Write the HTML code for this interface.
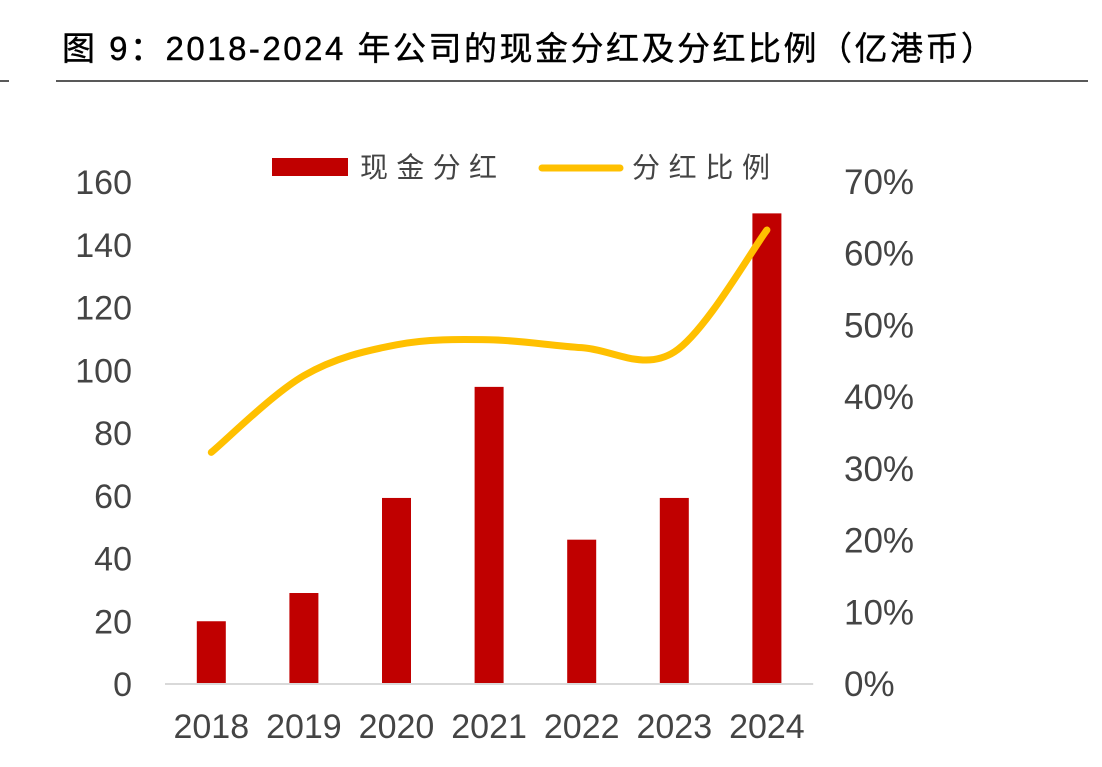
<!DOCTYPE html>
<html><head><meta charset="utf-8"><style>
body{margin:0;background:#fff;width:1102px;height:762px;overflow:hidden;font-family:"Liberation Sans","Noto Sans CJK SC",sans-serif}
svg text{font-family:"Liberation Sans","Noto Sans CJK SC",sans-serif}
</style></head><body>
<svg width="1102" height="762">
<text x="62" y="60" font-size="33" fill="#000" letter-spacing="2.5" stroke="#000" stroke-width="0.4">图 9：2018-2024 年公司的现金分红及分红比例（亿港币）</text>
<line x1="56" y1="81" x2="1088" y2="81" stroke="#222" stroke-width="1.5"/>
<line x1="0" y1="81" x2="9" y2="81" stroke="#222" stroke-width="1.5"/>
<rect x="272" y="158" width="76" height="18" fill="#c00000"/>
<text x="360" y="177" font-size="28" fill="#444" textLength="137" lengthAdjust="spacing">现金分红</text>
<line x1="542" y1="168" x2="620" y2="168" stroke="#ffc000" stroke-width="7" stroke-linecap="round"/>
<text x="632" y="177" font-size="28" fill="#444" textLength="138" lengthAdjust="spacing">分红比例</text>
<g id="g"></g>
</svg>
<script>
const categories=["2018","2019","2020","2021","2022","2023","2024"];
const dividends=[20,29,59.3,94.7,46,59.3,150];
const ratios=[32.3,43,47.3,48,46.9,46.3,63.3];
const leftTicks=[0,20,40,60,80,100,120,140,160];
const rightTicks=[0,10,20,30,40,50,60,70];
const NS="http://www.w3.org/2000/svg",g=document.getElementById('g');
const x0=165,step=92.6,yB=684,yT=182;
const xc=i=>x0+step*(i+0.5);
const yL=v=>yB-(v/160)*(yB-yT);
const yR=v=>yB-(v/70)*(yB-yT);
function mk(t,a){const e=document.createElementNS(NS,t);for(const k in a)e.setAttribute(k,a[k]);g.appendChild(e);return e;}
leftTicks.forEach(v=>{const e=mk('text',{x:132,y:yL(v)+12,'font-size':34,fill:'#444','text-anchor':'end'});e.textContent=v;

});
rightTicks.forEach(v=>{const e=mk('text',{x:844,y:yR(v)+12,'font-size':35,fill:'#444'});e.textContent=v+'%';

});
dividends.forEach((v,i)=>{const e=mk('rect',{x:xc(i)-14.5,y:yL(v),width:29,height:yB-yL(v),fill:'#c00000'});

});
const ax=mk('line',{x1:x0,y1:yB,x2:x0+step*7,y2:yB,stroke:'#d9d9d9','stroke-width':2});


categories.forEach((c,i)=>{const e=mk('text',{x:xc(i),y:738,'font-size':34,fill:'#444','text-anchor':'middle'});e.textContent=c;

});
const P=ratios.map((v,i)=>[xc(i),yR(v)]);
let d='M'+P[0];
for(let i=0;i<P.length-1;i++){const p0=P[i-1]||P[i],p1=P[i],p2=P[i+1],p3=P[i+2]||p2;
d+=' C'+(p1[0]+(p2[0]-p0[0])/6)+','+(p1[1]+(p2[1]-p0[1])/6)+' '+(p2[0]-(p3[0]-p1[0])/6)+','+(p2[1]-(p3[1]-p1[1])/6)+' '+p2;}
const ln=mk('path',{d:d,fill:'none',stroke:'#ffc000','stroke-width':7,'stroke-linecap':'round'});


</script>
</body></html>
